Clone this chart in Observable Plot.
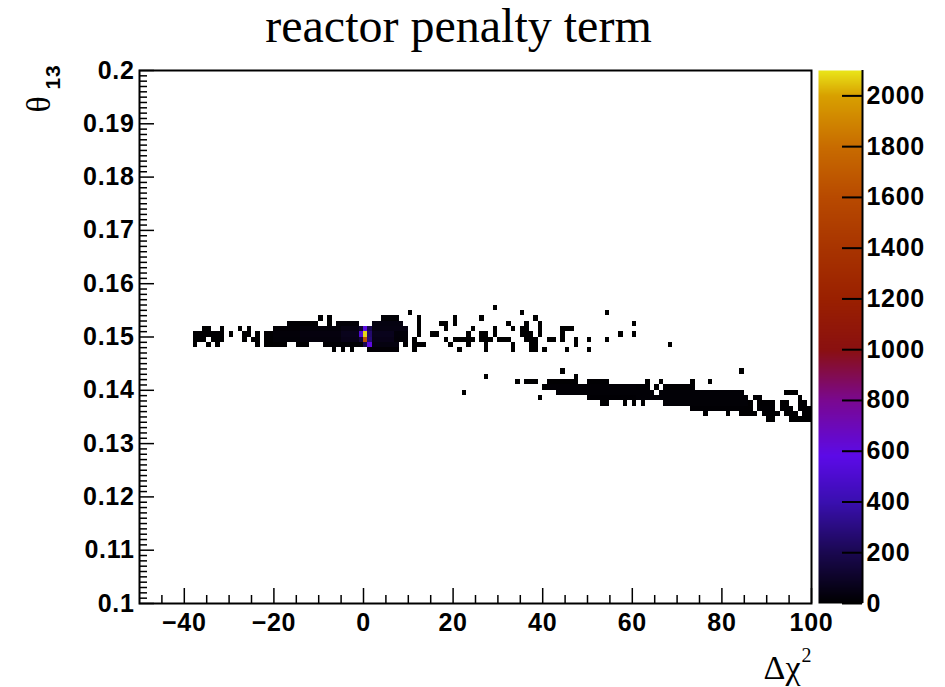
<!DOCTYPE html>
<html>
<head>
<meta charset="utf-8">
<script src="https://cdn.jsdelivr.net/npm/d3@7"></script>
<script src="https://cdn.jsdelivr.net/npm/@observablehq/plot@0.6"></script>
<style>
  html, body { margin: 0; padding: 0; background: #fff; }
  #chart { position: relative; width: 945px; height: 687px; overflow: hidden; }
  #chart svg { position: absolute; left: 0; top: 0; }
</style>
</head>
<body>
<div id="chart"></div>
<script>
// Filled bins of the 2D histogram, as runs along Δχ²:
// [θ13 bin lower edge, first Δχ² bin, last Δχ² bin, entries per bin]
// Bin widths: 1 in Δχ², 0.001 in θ13.
const leftTail = [
  [0.151, -36, -35, 3], [0.151, -32, -32, 2],
  [0.150, -38, -32, 4],
  [0.149, -38, -36, 3], [0.149, -34, -32, 3],
  [0.148, -38, -38, 2], [0.148, -35, -35, 1], [0.148, -33, -33, 1],
  [0.151, -28, -28, 1], [0.151, -26, -26, 2],
  [0.150, -30, -30, 1], [0.150, -27, -26, 3], [0.150, -24, -24, 2], [0.150, -21, -21, 4],
  [0.149, -27, -27, 2], [0.149, -25, -24, 3], [0.149, -21, -21, 5],
  [0.148, -24, -24, 2], [0.148, -22, -21, 3]
];

const mainCore = [
  [0.153, -10, -10, 2], [0.153, -8, -8, 2], [0.153, 4, 7, 15],
  [0.152, -17, -11, 10], [0.152, -8, -8, 5], [0.152, -6, -2, 20], [0.152, 2, 8, 40],
  [0.151, -20, -15, 12], [0.151, -14, -6, 25], [0.151, -5, -2, 45], [0.151, -1, -1, 120],
  [0.151, 0, 0, 560], [0.151, 1, 1, 200], [0.151, 2, 9, 45],
  [0.150, -22, -21, 6], [0.150, -20, -15, 20], [0.150, -14, -6, 35], [0.150, -5, -2, 70],
  [0.150, -1, -1, 520], [0.150, 0, 0, 2080], [0.150, 1, 1, 260], [0.150, 2, 6, 70], [0.150, 7, 9, 25],
  [0.149, -22, -21, 5], [0.149, -20, -15, 18], [0.149, -14, -6, 30], [0.149, -5, -2, 60],
  [0.149, -1, -1, 150], [0.149, 0, 0, 1650], [0.149, 1, 1, 280], [0.149, 2, 6, 60], [0.149, 7, 9, 20],
  [0.148, -20, -18, 6], [0.148, -15, -13, 8], [0.148, -9, -1, 15], [0.148, 0, 0, 200],
  [0.148, 1, 1, 600], [0.148, 2, 7, 40], [0.148, 9, 9, 5],
  [0.147, -7, -7, 2], [0.147, -5, -5, 2], [0.147, -3, -3, 2], [0.147, 1, 7, 12]
];

const rightScatter = [
  [0.154, 10, 10, 1],
  [0.153, 12, 12, 1], [0.152, 12, 12, 1], [0.151, 12, 12, 1], [0.150, 12, 12, 1],
  [0.149, 11, 11, 2], [0.148, 11, 13, 2], [0.147, 11, 11, 1],
  [0.150, 15, 16, 1],
  [0.152, 17, 18, 1], [0.151, 18, 18, 1],
  [0.153, 20, 20, 1], [0.152, 20, 20, 1],
  [0.149, 18, 18, 1], [0.148, 19, 19, 1],
  [0.149, 20, 24, 1], [0.147, 21, 21, 1],
  [0.150, 23, 23, 1], [0.148, 23, 23, 1], [0.151, 24, 24, 1],
  [0.150, 26, 27, 1], [0.149, 26, 28, 1], [0.153, 26, 26, 1],
  [0.148, 27, 27, 1], [0.147, 27, 27, 1],
  [0.155, 29, 29, 1], [0.151, 29, 29, 1], [0.150, 29, 29, 1],
  [0.149, 30, 32, 1], [0.152, 32, 32, 1], [0.151, 33, 33, 1],
  [0.148, 33, 33, 1], [0.147, 33, 33, 1],
  [0.154, 35, 35, 1],
  [0.152, 36, 36, 1], [0.151, 35, 36, 2], [0.150, 35, 37, 2], [0.149, 36, 38, 2], [0.148, 37, 38, 1],
  [0.147, 37, 38, 1], [0.153, 38, 38, 1],
  [0.152, 39, 39, 1], [0.151, 39, 39, 1], [0.150, 39, 39, 1],
  [0.147, 40, 40, 1], [0.149, 41, 42, 1],
  [0.150, 44, 44, 1], [0.151, 44, 44, 1], [0.149, 44, 44, 1],
  [0.151, 45, 46, 1], [0.149, 47, 47, 1], [0.148, 47, 47, 1], [0.147, 45, 45, 1],
  [0.149, 50, 50, 1], [0.147, 50, 50, 1],
  [0.154, 54, 54, 1], [0.149, 54, 54, 1],
  [0.150, 57, 57, 1],
  [0.152, 60, 60, 1], [0.150, 60, 60, 1],
  [0.148, 68, 68, 1]
];

const lowerBand = [
  [0.139, 22, 22, 1], [0.142, 27, 27, 1],
  [0.141, 34, 34, 1], [0.141, 36, 38, 2],
  [0.138, 39, 39, 1], [0.140, 40, 40, 2], [0.143, 44, 44, 1], [0.142, 47, 47, 2],
  [0.141, 41, 47, 6], [0.141, 50, 54, 8],
  [0.140, 41, 60, 12],
  [0.139, 43, 60, 14],
  [0.138, 50, 60, 10],
  [0.137, 53, 54, 3], [0.137, 58, 58, 2],
  [0.141, 63, 63, 1], [0.141, 66, 66, 1], [0.141, 73, 73, 1], [0.141, 77, 77, 1],
  [0.140, 61, 63, 8], [0.140, 65, 65, 4], [0.140, 67, 73, 6],
  [0.139, 61, 64, 14], [0.139, 66, 84, 15],
  [0.138, 61, 85, 15], [0.138, 87, 88, 4],
  [0.137, 60, 60, 3], [0.137, 62, 62, 3], [0.137, 67, 85, 14], [0.137, 86, 86, 6],
  [0.137, 88, 91, 8], [0.137, 93, 94, 5], [0.137, 97, 98, 4],
  [0.136, 73, 84, 10], [0.136, 85, 86, 8], [0.136, 88, 91, 10], [0.136, 93, 95, 8], [0.136, 97, 99, 6],
  [0.135, 76, 76, 3], [0.135, 81, 81, 3], [0.135, 84, 87, 6], [0.135, 89, 92, 7],
  [0.135, 94, 96, 5], [0.135, 98, 99, 4],
  [0.134, 90, 91, 2], [0.134, 95, 99, 3],
  [0.139, 94, 96, 1], [0.138, 97, 97, 1],
  [0.143, 84, 84, 1]
];

// Axis ticks and labels
const xMajor = [-40, -20, 0, 20, 40, 60, 80, 100];
const xMajorLabels = ["\u221240", "\u221220", "0", "20", "40", "60", "80", "100"];
const xMinor = [-45, -35, -30, -25, -15, -10, -5, 5, 10, 15, 25, 30, 35, 45, 50, 55, 65, 70, 75, 85, 90, 95];
const yMajor = [0.1, 0.11, 0.12, 0.13, 0.14, 0.15, 0.16, 0.17, 0.18, 0.19, 0.2];
const yMajorLabels = ["0.1", "0.11", "0.12", "0.13", "0.14", "0.15", "0.16", "0.17", "0.18", "0.19", "0.2"];
const zTicks = [0, 200, 400, 600, 800, 1000, 1200, 1400, 1600, 1800, 2000];
const zTickLabels = ["0", "200", "400", "600", "800", "1000", "1200", "1400", "1600", "1800", "2000"];
const zMax = 2100;

// Colour palette (entries -> colour)
const paletteStops = [0, 200, 400, 580, 800, 1000, 1200, 1400, 1600, 1800, 2000, 2100];
const paletteColors = ["#000000", "#1a0850", "#3a0fb0", "#5c0ae8", "#7a0890", "#8a1010",
                       "#9a2000", "#a83400", "#b84a00", "#c86c00", "#d8a000", "#eae61a"];

const cells = [];
for (const runs of [leftTail, mainCore, rightScatter, lowerBand]) {
  for (const [theta, from, to, count] of runs) {
    for (let x = from; x <= to; ++x) cells.push({x, theta, count});
  }
}

const yMinor = d3.range(101).map(i => 0.1 + i * 0.001).filter((v, i) => i % 10 !== 0);

const W = 945, H = 687;
const ML = 139, MR = 134, MT = 70, MB = 84;
const FW = W - ML - MR, FH = H - MT - MB;

const colorScale = {type: "linear", domain: paletteStops, range: paletteColors, interpolate: "rgb"};
const sans = "'Liberation Sans', Arial, Helvetica, sans-serif";
const serif = "'Liberation Serif', 'Times New Roman', serif";
const tickLabelStyle = {fontSize: 25, fontWeight: "bold", fontFamily: sans, fill: "black"};

const main = Plot.plot({
  width: W, height: H,
  marginLeft: ML, marginRight: MR, marginTop: MT, marginBottom: MB,
  x: {domain: [-50, 100], axis: null},
  y: {domain: [0.1, 0.2], axis: null},
  color: colorScale,
  style: {background: "transparent", overflow: "visible", fontFamily: sans},
  marks: [
    Plot.rect(cells, {
      x1: d => d.x, x2: d => d.x + 1,
      y1: d => d.theta, y2: d => d.theta + 0.001,
      fill: d => d.count, shapeRendering: "crispEdges"
    }),
    Plot.tickY(yMinor, {y: d => d, insetRight: FW - 8, stroke: "black", strokeWidth: 1.5}),
    Plot.tickY(yMajor, {y: d => d, insetRight: FW - 15, stroke: "black", strokeWidth: 1.5}),
    Plot.tickX(xMinor, {x: d => d, insetTop: FH - 8, stroke: "black", strokeWidth: 1.5}),
    Plot.tickX(xMajor, {x: d => d, insetTop: FH - 15, stroke: "black", strokeWidth: 1.5}),
    Plot.frame({stroke: "black", strokeWidth: 2}),
    Plot.text(yMajor, {
      y: d => d, text: (d, i) => yMajorLabels[i],
      frameAnchor: "left", textAnchor: "end", lineAnchor: "middle", dx: -5,
      ...tickLabelStyle
    }),
    Plot.text(xMajor, {
      x: d => d, text: (d, i) => xMajorLabels[i],
      frameAnchor: "bottom", textAnchor: "middle", lineAnchor: "middle", dy: 19,
      ...tickLabelStyle
    }),
    // title
    Plot.text(["reactor penalty term"], {
      frameAnchor: "top-left", dx: 319, dy: -29, textAnchor: "middle", lineAnchor: "bottom",
      fontSize: 48, fontFamily: serif, fill: "black"
    }),
    // x-axis title: Δχ²
    Plot.text(["\u0394\u03c7"], {
      frameAnchor: "bottom-right", dx: -11, dy: 75, textAnchor: "end", lineAnchor: "bottom",
      fontSize: 34, fontFamily: serif, fill: "black"
    }),
    Plot.text(["2"], {
      frameAnchor: "bottom-right", dx: -10, dy: 58, textAnchor: "start", lineAnchor: "bottom",
      fontSize: 20, fontFamily: serif, fill: "black"
    }),
    // y-axis title: θ13
    Plot.text(["\u03b8"], {
      frameAnchor: "top-left", dx: -100, dy: 42, rotate: -90, textAnchor: "start", lineAnchor: "middle",
      fontSize: 34, fontFamily: serif, fill: "black"
    }),
    Plot.text(["13"], {
      frameAnchor: "top-left", dx: -86, dy: 19, rotate: -90, textAnchor: "start", lineAnchor: "middle",
      fontSize: 21, fontWeight: "bold", fontFamily: sans, fill: "black"
    })
  ]
});

// Colour bar
const CBL = 818, CBR = 862;
const bar = Plot.plot({
  width: W, height: H,
  marginLeft: CBL, marginRight: W - CBR, marginTop: MT, marginBottom: MB,
  x: {domain: [0, 1], axis: null},
  y: {domain: [0, zMax], axis: null},
  color: colorScale,
  style: {background: "transparent", overflow: "visible", fontFamily: sans},
  marks: [
    Plot.raster({x1: 0, x2: 1, y1: 0, y2: zMax, width: 1, height: FH, fill: (x, y) => y}),
    Plot.ruleX([1], {stroke: "black", strokeWidth: 2}),
    Plot.tickY(zTicks, {y: d => d, insetLeft: (CBR - CBL) - 20, stroke: "black", strokeWidth: 2}),
    Plot.text(zTicks, {
      y: d => d, text: (d, i) => zTickLabels[i],
      frameAnchor: "right", textAnchor: "start", lineAnchor: "middle", dx: 4,
      ...tickLabelStyle
    })
  ]
});

const chart = document.getElementById("chart");
chart.appendChild(main);
chart.appendChild(bar);

// ROOT-style bold labels are set slightly wider
d3.select(chart).selectAll('g[font-weight="bold"] text').style("letter-spacing", "0.7px");
</script>
</body>
</html>
